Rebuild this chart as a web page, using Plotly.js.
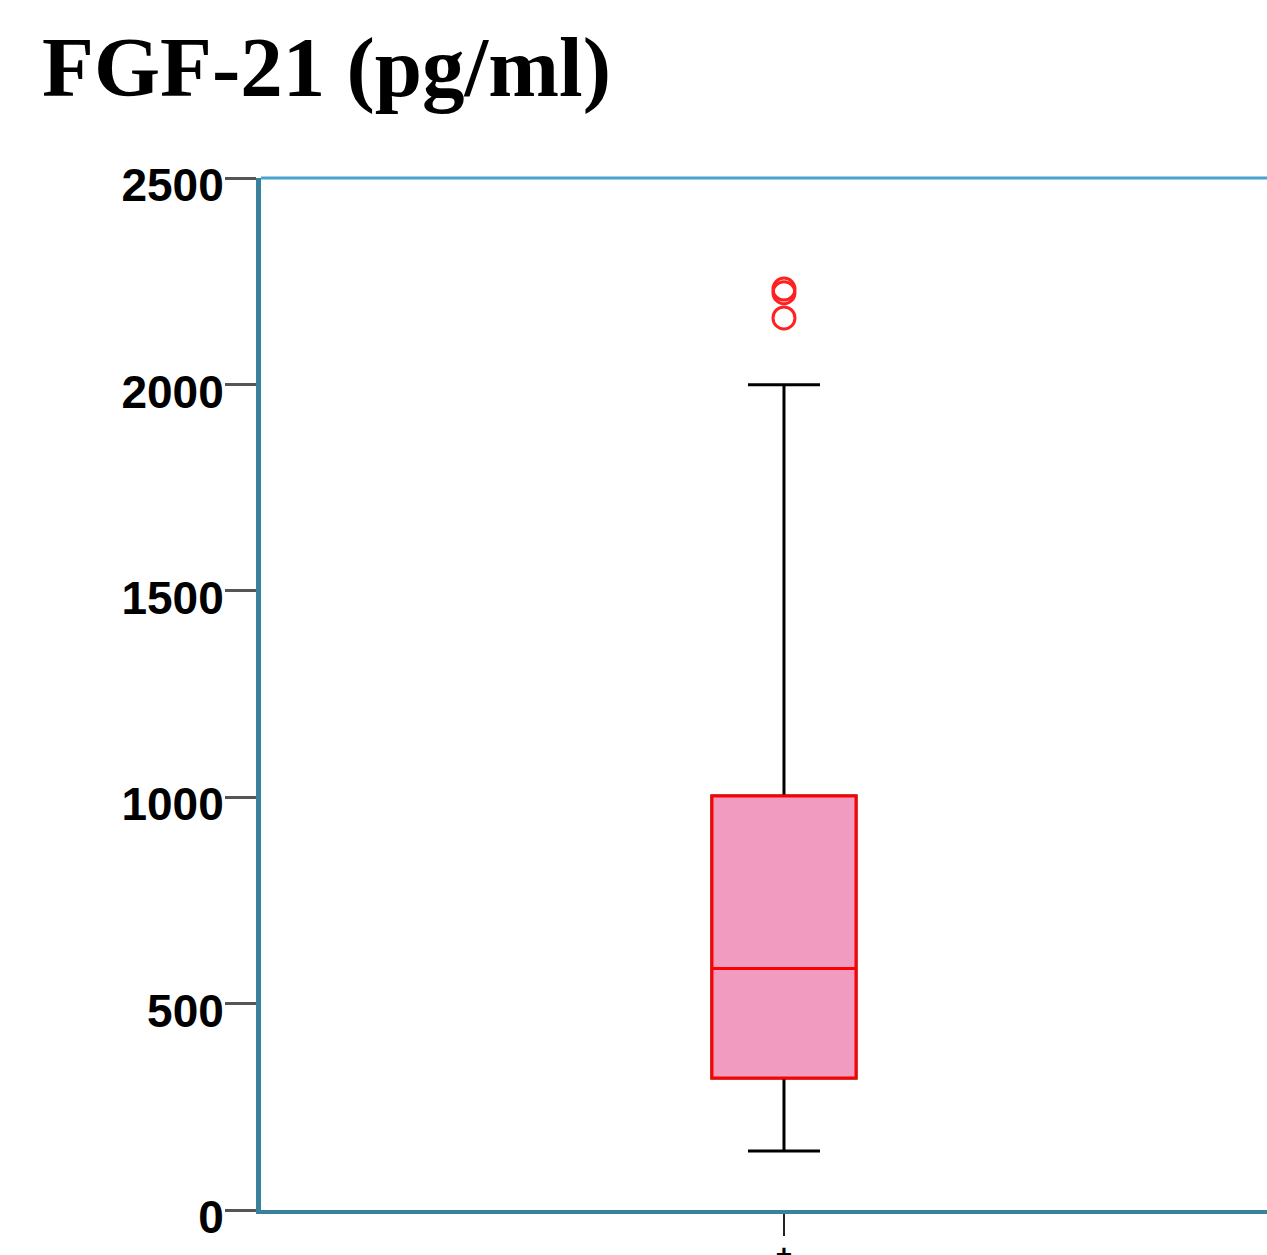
<!DOCTYPE html>
<html>
<head>
<meta charset="utf-8">
<script src="https://cdn.plot.ly/plotly-3.0.1.min.js"></script>
<style>html,body{margin:0;padding:0;background:#fff;}#chart{width:1267px;height:1255px;}</style>
</head>
<body>
<div id="chart"></div>
<script>
// Data
const category = ["+"];
const q1 = [320];
const median = [585];
const q3 = [1003];
const lowerWhisker = [143];
const upperWhisker = [1999];
const outlierValues = [2231, 2222, 2161];
const yTicks = [0, 500, 1000, 1500, 2000, 2500];

const whiskers = {
  type: 'box',
  x: category,
  q1: q1, median: median, q3: q3,
  lowerfence: lowerWhisker, upperfence: upperWhisker,
  width: 0.1377,
  whiskerwidth: 0.5,
  line: {color: '#000000', width: 3},
  fillcolor: 'rgba(0,0,0,0)',
  boxpoints: false,
  hoverinfo: 'skip',
  showlegend: false
};
const box = {
  type: 'box',
  x: category,
  q1: q1, median: median, q3: q3,
  lowerfence: q1, upperfence: q3,
  width: 0.1377,
  whiskerwidth: 0,
  line: {color: '#ff0000', width: 3},
  fillcolor: '#f29bc1',
  boxpoints: false,
  showlegend: false
};
const outliers = {
  type: 'scatter',
  mode: 'markers',
  x: outlierValues.map(() => category[0]),
  y: outlierValues,
  marker: {symbol: 'circle-open', size: 22, color: '#ff2020', line: {width: 3, color: '#ff2020'}},
  showlegend: false
};

const layout = {
  width: 1267, height: 1255,
  margin: {l: 261, r: 0, t: 178, b: 45, pad: 0},
  paper_bgcolor: '#ffffff', plot_bgcolor: '#ffffff',
  boxmode: 'overlay',
  showlegend: false,
  title: {
    text: 'FGF-21 (pg/ml)',
    font: {family: 'Liberation Serif', size: 85, color: '#000000', weight: 'bold'},
    x: 42 / 1267, xref: 'container', xanchor: 'left',
    y: 1 - 66 / 1255, yref: 'container', yanchor: 'middle'
  },
  xaxis: {
    type: 'category',
    categoryarray: category,
    range: [-0.5, 0.4618],
    showgrid: false, zeroline: false,
    showline: true, linecolor: '#3a819c', linewidth: 4,
    ticks: 'outside', ticklen: 22, tickwidth: 2, tickcolor: '#222222',
    ticklabelstandoff: -6,
    tickfont: {family: 'Liberation Sans', size: 28, color: '#000000', weight: 'bold'},
    fixedrange: true
  },
  yaxis: {
    range: [0, 2500],
    tickvals: yTicks,
    ticktext: yTicks.map(String),
    showgrid: false, zeroline: false,
    showline: true, linecolor: '#3a819c', linewidth: 5,
    ticks: 'outside', ticklen: 31, tickwidth: 3, tickcolor: '#555555',
    ticklabelstandoff: -8,
    ticklabelshift: 7,
    tickfont: {family: 'Liberation Sans', size: 46, color: '#000000', weight: 'bold'},
    fixedrange: true
  },
  shapes: [{
    type: 'line', xref: 'paper', yref: 'paper',
    x0: 0, x1: 1, y0: 1, y1: 1,
    line: {color: '#4aa3cc', width: 3}
  }]
};

Plotly.newPlot('chart', [whiskers, box, outliers], layout, {displayModeBar: false, staticPlot: true});
</script>
</body>
</html>
